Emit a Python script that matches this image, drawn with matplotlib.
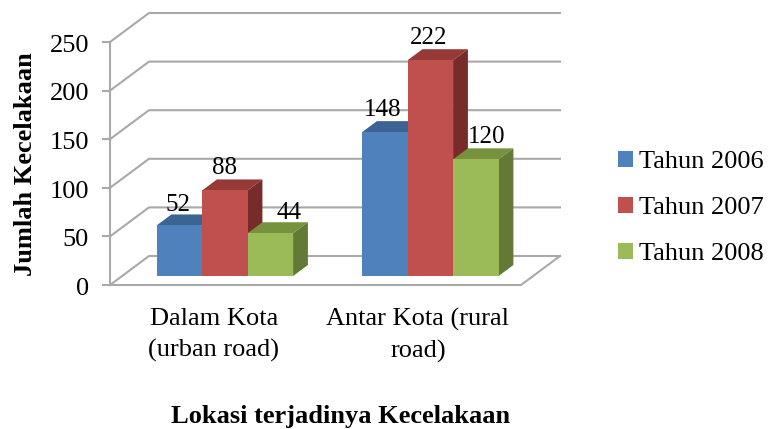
import matplotlib
matplotlib.use('Agg')
import matplotlib.pyplot as plt
from matplotlib.patches import Polygon

plt.rcParams['font.family'] = ['Liberation Serif', 'DejaVu Serif']

categories = ['Dalam Kota\n(urban road)', 'Antar Kota (rural\nroad)']
series_names = ['Tahun 2006', 'Tahun 2007', 'Tahun 2008']
values = {
    'Tahun 2006': [52, 148],
    'Tahun 2007': [88, 222],
    'Tahun 2008': [44, 120],
}
y_ticks = [0, 50, 100, 150, 200, 250]

front = ['#4F81BD', '#C0504D', '#9BBB59']
top = ['#3B6493', '#953A37', '#76923F']
side = ['#2F5078', '#772C2A', '#637A36']
grid_col = '#A9A9A9'

# scale of the picture: pixels per category / per value
px_x = 205.5
px_y = 0.972
x0, y0 = 110, 285
W, H = 770, 429

# oblique depth of the floor, in data units
dx = 39 / px_x
dy = 29 / px_y
n_cat = 2
bar_w = 45.5 / px_x
d1 = 0.31   # front of the bars
d2 = 0.69   # back of the bars
centers = [0.5, 1.5]

fig = plt.figure(figsize=(W / 100, H / 100), dpi=100)
ax = fig.add_axes([0, 0, 1, 1])
ax.set_xlim(-x0 / px_x, (W - x0) / px_x)
ax.set_ylim(-(H - y0) / px_y, y0 / px_y)
ax.axis('off')

# walls
lw = 1.5
for v in y_ticks:
    ax.plot([0, dx, n_cat + dx], [v, v + dy, v + dy], color=grid_col, lw=lw, zorder=1, solid_joinstyle='miter')
    ax.plot([-7 / px_x, 0], [v, v], color=grid_col, lw=lw, zorder=1)
    ax.text(-21 / px_x, v - 4, str(v), ha='right', va='center', fontsize=19, color='black')
ax.plot([0, 0], [0, y_ticks[-1]], color=grid_col, lw=lw, zorder=1)
ax.plot([0, n_cat, n_cat + dx], [0, 0, dy], color=grid_col, lw=lw, zorder=1, solid_joinstyle='miter')

# bars, drawn left to right so that the next front face hides the side
label_off = {
    'Tahun 2006': [(-1, 20), (-2, 22)],
    'Tahun 2007': [(0, 22), (-2, 22)],
    'Tahun 2008': [(19, 20), (11, 22)],
}
base = d1 * dy
for c, cx in enumerate(centers):
    for s, name in enumerate(series_names):
        v = values[name][c]
        left = cx + (s - 1.5) * bar_w + d1 * dx
        right = left + bar_w
        z = 3 + s
        ax.bar(left, v, width=bar_w, bottom=base, align='edge', color=front[s], zorder=z + 0.5, label=name if c == 0 else None)
        ddx = (d2 - d1) * dx
        ddy = (d2 - d1) * dy
        ax.add_patch(Polygon([(left, base + v), (right, base + v), (right + ddx, base + v + ddy), (left + ddx, base + v + ddy)],
                             facecolor=top[s], edgecolor='none', zorder=z))
        ax.add_patch(Polygon([(right, base), (right, base + v), (right + ddx, base + v + ddy), (right + ddx, base + ddy)],
                             facecolor=side[s], edgecolor='none', zorder=z))
        ox, oy = label_off[name][c]
        ax.annotate(str(v), (left + bar_w / 2, base + v), xytext=(ox * 0.72, oy * 0.72), textcoords='offset points',
                    ha='center', va='center', fontsize=18, zorder=10)

# category labels
ax.text(214 / W, 1 - 335 / H, categories[0], transform=ax.transAxes, ha='center', va='center', fontsize=19, linespacing=1.5)
ax.text(418 / W, 1 - 335 / H, categories[1], transform=ax.transAxes, ha='center', va='center', fontsize=19, linespacing=1.5)

ax.text(341 / W, 1 - 417 / H, 'Lokasi terjadinya Kecelakaan', transform=ax.transAxes, ha='center', va='center', fontsize=19, fontweight='bold')
ax.text(26 / W, 1 - 164 / H, 'Jumlah Kecelakaan', transform=ax.transAxes, rotation=90, ha='center', va='center', fontsize=19, fontweight='bold')

ax.legend(loc='center left', bbox_to_anchor=(618 / W, 1 - 208 / H), frameon=False, fontsize=19,
          handlelength=0.56, handleheight=0.56, handletextpad=0.25, labelspacing=0.89, borderpad=0, borderaxespad=0)

fig.savefig('out.png', dpi=100)
